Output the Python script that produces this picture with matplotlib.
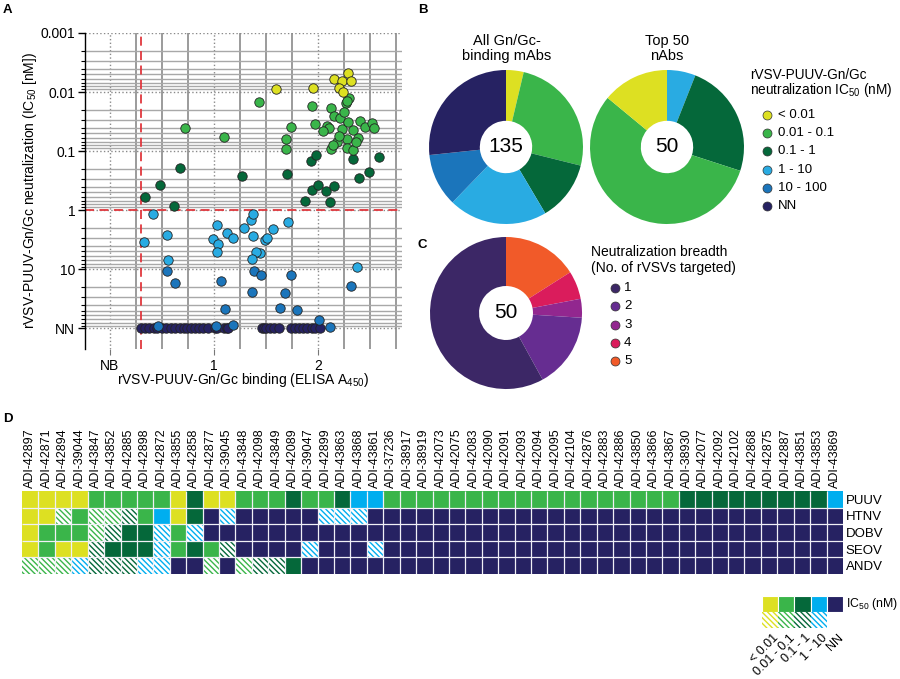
import numpy as np
import matplotlib
matplotlib.use("Agg")
import matplotlib.pyplot as plt
from matplotlib.ticker import FixedLocator, NullFormatter, MultipleLocator

plt.rcParams['font.family'] = ['Liberation Sans', 'DejaVu Sans']
plt.rcParams['mathtext.default'] = 'regular'
plt.rcParams['hatch.linewidth'] = 1.0

# --- colours ---
YEL = '#DDE022'
GRN = '#3AB54A'
DKG = '#05683A'
LBL = '#29ABE2'
LBL_HEAT = '#00AEEF'
MDB = '#1B75BB'
NAV = '#262262'

# --- panel A: binding vs neutralization (NN plotted on its own row) ---
NN_POS = 100
yel_x = [1.60, 1.95, 2.16, 2.29, 2.23, 2.32, 2.20, 2.24]
yel_y = [0.0089, 0.0085, 0.0059, 0.0047, 0.0065, 0.0066, 0.0087, 0.0100]
grn_x = [0.72, 1.10, 1.43, 1.94, 2.30, 2.27, 2.28, 2.13, 2.16, 2.21, 1.74, 1.97, 2.09, 2.11, 2.23,
         2.29, 2.34, 2.41, 2.45, 2.52, 2.54, 2.28, 2.39, 2.18, 2.28, 2.34, 2.13, 1.69, 1.69, 2.05,
         2.25, 2.37, 2.20, 2.15]
grn_y = [0.040, 0.058, 0.015, 0.017, 0.0126, 0.0155, 0.014, 0.0186, 0.025, 0.027, 0.039, 0.035, 0.037,
         0.041, 0.043, 0.032, 0.044, 0.031, 0.039, 0.033, 0.041, 0.063, 0.059, 0.071, 0.089, 0.095,
         0.093, 0.063, 0.093, 0.045, 0.022, 0.070, 0.055, 0.080]
dkg_x = [0.34, 0.48, 0.62, 0.67, 1.27, 1.70, 1.93, 1.98, 2.34, 2.40, 2.49, 2.59, 1.94, 2.00, 2.08,
         2.16, 1.875, 2.12]
dkg_y = [0.60, 0.38, 0.85, 0.19, 0.26, 0.24, 0.145, 0.117, 0.138, 0.29, 0.23, 0.128, 0.46, 0.38,
         0.47, 0.39, 0.69, 0.72]
lbl_x = [0.41, 0.33, 0.55, 0.56, 1.03, 0.99, 1.13, 1.04, 1.03, 1.18, 1.29, 1.36, 1.38, 1.38, 1.49,
         1.51, 1.57, 1.71, 1.44, 1.41, 1.37, 2.38]
lbl_y = [1.17, 3.4, 2.6, 7.0, 1.8, 3.1, 2.4, 3.8, 5.1, 3.0, 2.0, 1.48, 1.15, 2.75, 3.2, 3.0, 2.1,
         1.6, 5.4, 5.1, 6.6, 9.3]
mdb_x = [0.55, 0.63, 1.07, 1.11, 0.46, 1.02, 1.39, 1.45, 1.74, 1.37, 1.68, 1.64, 1.80, 2.32, 1.18,
         2.01, 2.12]
mdb_y = [10.7, 17, 15.5, 48, 91, 91, 10.7, 12.5, 12.4, 24.5, 25, 46, 49, 19, 87, 73, 95]
nav_x = [0.30, 0.34, 0.375, 0.42, 0.45, 0.50, 0.54, 0.59, 0.63, 0.67, 0.71, 0.74, 0.78, 0.82, 0.86,
         0.90, 0.94, 1.01, 1.03, 1.10, 1.13, 1.14, 1.46, 1.48, 1.50, 1.54, 1.58, 1.63, 1.74, 1.78,
         1.82, 1.86, 1.90, 1.94, 1.97, 2.02]
binding_cutoff = 0.3
neut_cutoff = 1

# --- panel B / C pies ---
b_labels = ['< 0.01', '0.01 - 0.1', '0.1 - 1', '1 - 10', '10 - 100', 'NN']
b_colors = [YEL, GRN, DKG, LBL, MDB, NAV]
all_counts = [5, 34, 17, 28, 15, 36]          # same order as b_labels
top50_order = ['1 - 10', '0.1 - 1', '0.01 - 0.1', '< 0.01']
top50_counts = [3, 12, 28, 7]
c_labels = ['1', '2', '3', '4', '5']
c_colors = ['#3C2766', '#662D91', '#92278F', '#DA1C5C', '#F15A29']
breadth_counts = [29, 8, 2, 3, 8]             # breadth 1..5

# --- panel D heatmap ---
mab_ids = ['ADI-42897', 'ADI-42871', 'ADI-42894', 'ADI-39044', 'ADI-43847', 'ADI-43852', 'ADI-42885',
           'ADI-42898', 'ADI-42872', 'ADI-43855', 'ADI-42858', 'ADI-42877', 'ADI-39045', 'ADI-43848',
           'ADI-42098', 'ADI-43849', 'ADI-42089', 'ADI-39047', 'ADI-42899', 'ADI-43863', 'ADI-43868',
           'ADI-43861', 'ADI-37236', 'ADI-38917', 'ADI-38919', 'ADI-42073', 'ADI-42075', 'ADI-42083',
           'ADI-42090', 'ADI-42091', 'ADI-42093', 'ADI-42094', 'ADI-42095', 'ADI-42104', 'ADI-42876',
           'ADI-42883', 'ADI-42886', 'ADI-43850', 'ADI-43866', 'ADI-43867', 'ADI-38930', 'ADI-42077',
           'ADI-42092', 'ADI-42102', 'ADI-42868', 'ADI-42875', 'ADI-42887', 'ADI-43851', 'ADI-43853',
           'ADI-43869']
viruses = ['PUUV', 'HTNV', 'DOBV', 'SEOV', 'ANDV']
# Y <0.01, G 0.01-0.1, D 0.1-1, B 1-10, N NN ; lower case = hatched
heat_rows = [
    'YYYYGGGGGYDYYGGGDGGDBB' + 'G' * 18 + 'D' * 9 + 'B',
    'YYgGggdGBYDNbNNNNNbbb' + 'N' * 29,
    'YGGGgdDDbGb' + 'N' * 39,
    'YGYYdDDDbGDGdNNNNbNNNb' + 'N' * 28,
    'gggbdddbbNNgNgddD' + 'N' * 33,
]
heat_colors = {'Y': YEL, 'G': GRN, 'D': DKG, 'B': LBL_HEAT, 'N': NAV}
key_labels = ['< 0.01', '0.01 - 0.1', '0.1 - 1', '1 - 10', 'NN']
key_solid = 'YGDBN'
key_hatched = 'ygdb'
HATCH = '\\' * 6

W, H = 900, 679
fig = plt.figure(figsize=(9, 6.79), dpi=100)


def px_rect(x0, y0, x1, y1):
    return [x0 / W, 1 - y1 / H, (x1 - x0) / W, (y1 - y0) / H]


# ================= A =================
axA = fig.add_axes(px_rect(85, 33, 402, 349))
axA.set_yscale('log')
axA.set_xlim(-0.24, 2.81)
axA.set_ylim(10 ** 2.35, 0.001)
axA.set_axisbelow(True)

groups = [(nav_x, [NN_POS] * len(nav_x), NAV), (mdb_x, mdb_y, MDB), (lbl_x, lbl_y, LBL),
          (dkg_x, dkg_y, DKG), (grn_x, grn_y, GRN), (yel_x, yel_y, YEL)]
for xs, ys, c in groups:
    axA.scatter(xs, ys, s=46, c=c, edgecolors='#222222', linewidths=0.6, zorder=3, clip_on=False)

axA.axvline(binding_cutoff, color='#E0383E', lw=1.3, ls=(0, (5, 3)), zorder=2)
axA.axhline(neut_cutoff, color='#E0383E', lw=1.3, ls=(0, (5, 3)), zorder=2)

axA.set_yticks([0.001, 0.01, 0.1, 1, 10, NN_POS])
axA.set_yticklabels(['0.001', '0.01', '0.1', '1', '10', 'NN'])
minor_y = [m * 10.0 ** e for e in range(-3, 2) for m in range(2, 10)]
axA.yaxis.set_minor_locator(FixedLocator(minor_y))
axA.yaxis.set_minor_formatter(NullFormatter())
axA.set_xticks([0, 1, 2])
axA.set_xticklabels(['NB', '1', '2'])
axA.xaxis.set_minor_locator(MultipleLocator(0.25))
axA.grid(which='major', ls=':', color='#8a8a8a', lw=1.0)
axA.grid(which='minor', axis='y', ls='-', color='#a8a8a8', lw=1.0)
axA.grid(which='minor', axis='x', ls='-', color='#8a8a8a', lw=1.2)
axA.tick_params(axis='y', which='major', length=5, width=1, pad=2, labelsize=10)
axA.tick_params(axis='y', which='minor', length=3, width=0.8)
axA.tick_params(axis='x', which='major', length=4, width=0.8, color='#777777', pad=3, labelsize=10)
axA.tick_params(axis='x', which='minor', length=0)
for s in ['top', 'right', 'bottom']:
    axA.spines[s].set_visible(False)
axA.spines['left'].set_linewidth(1.0)
axA.set_ylabel('rVSV-PUUV-Gn/Gc neutralization (IC$_{50}$ [nM])', fontsize=10)
axA.yaxis.set_label_coords(-0.145, 0.5)
axA.set_xlabel('rVSV-PUUV-Gn/Gc binding (ELISA A$_{450}$)', fontsize=10, labelpad=-1)


# ================= B / C donuts =================
def donut(cx, cy, r, vals, cols, hole, center_text):
    ax = fig.add_axes(px_rect(cx - r, cy - r, cx + r, cy + r))
    ax.pie(vals, colors=cols, startangle=90, counterclock=False, radius=1,
           wedgeprops=dict(width=1 - hole, edgecolor='none', linewidth=0))
    ax.set_xlim(-1, 1)
    ax.set_ylim(-1, 1)
    ax.text(0, 0, center_text, ha='center', va='center', fontsize=15)
    return ax


donut(506, 147, 77, all_counts, b_colors, 0.34, str(sum(all_counts)))
top50_colors = [b_colors[b_labels.index(k)] for k in top50_order]
donut(667, 147, 77, top50_counts, top50_colors, 0.34, str(sum(top50_counts)))
c_order = [4, 3, 2, 1, 0]
donut(506, 313, 76, [breadth_counts[i] for i in c_order], [c_colors[i] for i in c_order], 0.355,
      str(sum(breadth_counts)))

# overlay for titles, letters and legends (pixel coordinates)
axO = fig.add_axes([0, 0, 1, 1], zorder=5)
axO.set_xlim(0, W)
axO.set_ylim(H, 0)
axO.axis('off')
axO.patch.set_alpha(0)

for lbl, x, y in [('A', 3, 13), ('B', 418, 13), ('C', 417, 248), ('D', 3, 422)]:
    axO.text(x, y, lbl, fontsize=9.5, fontweight='bold', va='baseline', ha='left')

axO.text(507, 45, 'All Gn/Gc-', fontsize=10.5, ha='center', va='baseline')
axO.text(507, 60, 'binding mAbs', fontsize=10.5, ha='center', va='baseline')
axO.text(667, 45, 'Top 50', fontsize=10.5, ha='center', va='baseline')
axO.text(667, 60, 'nAbs', fontsize=10.5, ha='center', va='baseline')

axO.text(750, 79, 'rVSV-PUUV-Gn/Gc', fontsize=9.8, ha='left', va='baseline')
axO.text(750, 94, 'neutralization IC$_{50}$ (nM)', fontsize=9.8, ha='left', va='baseline')
for i, (lab, col) in enumerate(zip(b_labels, b_colors)):
    y = 115 + 18.2 * i
    axO.scatter(767, y, s=42, c=col, edgecolors='#333333', linewidths=0.5)
    axO.text(778, y, lab, fontsize=9.5, ha='left', va='center')

axO.text(591, 256, 'Neutralization breadth', fontsize=10, ha='left', va='baseline')
axO.text(591, 272, '(No. of rVSVs targeted)', fontsize=10, ha='left', va='baseline')
for i, (lab, col) in enumerate(zip(c_labels, c_colors)):
    y = 288 + 18.3 * i
    axO.scatter(615, y, s=42, c=col, edgecolors='#333333', linewidths=0.5)
    axO.text(624, y, lab, fontsize=9.5, ha='left', va='center')

# ================= D heatmap =================
axD = fig.add_axes(px_rect(22, 491, 843, 574))
for r, row in enumerate(heat_rows):
    for c, code in enumerate(row):
        col = heat_colors[code.upper()]
        hatched = code.islower()
        axD.bar(c, 1, width=1, bottom=r, align='edge', color='white' if hatched else col,
                edgecolor=col, linewidth=0, hatch=HATCH if hatched else None)
axD.vlines(np.arange(1, len(mab_ids)), 0, len(viruses), color='#f0f0f6', lw=0.9)
axD.hlines(np.arange(1, len(viruses)), 0, len(mab_ids), color='#f0f0f6', lw=0.9)
axD.set_xlim(0, len(mab_ids))
axD.set_ylim(len(viruses), 0)
axD.set_xticks(np.arange(len(mab_ids)) + 0.5)
axD.set_xticklabels(mab_ids, rotation=90, fontsize=9)
axD.xaxis.tick_top()
axD.set_yticks(np.arange(len(viruses)) + 0.5)
axD.set_yticklabels(viruses, fontsize=9.5)
axD.yaxis.tick_right()
axD.tick_params(length=0, pad=2)
for s in axD.spines.values():
    s.set_visible(False)

# heatmap key
axK = fig.add_axes(px_rect(762, 596, 843, 628))
for i, code in enumerate(key_solid):
    axK.bar(i, 1, width=1, bottom=0, align='edge', color=heat_colors[code],
            edgecolor='white', linewidth=0.8)
for i, code in enumerate(key_hatched):
    col = heat_colors[code.upper()]
    axK.bar(i, 1, width=1, bottom=1, align='edge', color='white', edgecolor=col,
            linewidth=0, hatch=HATCH)
axK.set_xlim(0, 5)
axK.set_ylim(2, 0)
axK.axis('off')
for i, lab in enumerate(key_labels):
    axK.text(i + 0.65, 2.25, lab, rotation=45, rotation_mode='anchor', ha='right', va='top',
             fontsize=9, clip_on=False)
axK.text(5.2, 0.5, 'IC$_{50}$ (nM)', fontsize=8.8, ha='left', va='center', clip_on=False)

fig.savefig('out.png', dpi=100)
